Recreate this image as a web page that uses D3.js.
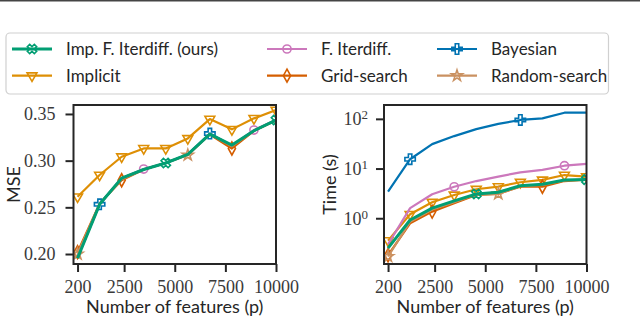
<!DOCTYPE html>
<html>
<head>
<meta charset="utf-8">
<script src="https://cdn.jsdelivr.net/npm/d3@7"></script>
<style>
  body { margin: 0; background: #fff; }
</style>
</head>
<body>
<script>
// number of features p (x axis for both panels)
let features = [200, 1288.9, 2377.8, 3466.7, 4555.6, 5644.4, 6733.3, 7822.2, 8911.1, 10000];

// MSE values (left panel)
let mseImpFIter = [0.1955, 0.2532, 0.2812, 0.2905, 0.2975, 0.3067, 0.3285, 0.3167, 0.3320, 0.3435];
let mseImplicit = [0.2613, 0.2846, 0.3042, 0.3131, 0.3131, 0.3238, 0.3445, 0.3335, 0.3453, 0.3542];
let mseFIter = [0.1965, 0.2535, 0.2810, 0.2910, 0.2975, 0.3065, 0.3285, 0.3160, 0.3328, 0.3435];
let mseGrid = [0.2020, 0.2540, 0.2790, 0.2905, 0.2975, 0.3065, 0.3280, 0.3130, 0.3320, 0.3430];
let mseBayes = [0.1965, 0.2532, 0.2810, 0.2905, 0.2975, 0.3065, 0.3290, 0.3160, 0.3320, 0.3435];
let mseRandom = [0.2000, 0.2535, 0.2800, 0.2905, 0.2975, 0.3060, 0.3285, 0.3155, 0.3320, 0.3435];

// time in seconds (right panel, log scale)
let timeImpFIter = [0.25, 0.92, 1.6, 2.23, 3.08, 3.33, 4.5, 4.83, 5.9, 6.0];
let timeImplicit = [0.355, 1.2, 2.1, 2.94, 3.83, 4.32, 5.3, 5.9, 7.4, 6.9];
let timeFIter = [0.30, 1.6, 3.04, 4.3, 5.6, 6.9, 8.4, 9.4, 11.4, 12.4];
let timeGrid = [0.18, 0.79, 1.36, 2.0, 2.94, 3.1, 4.3, 4.3, 5.6, 6.0];
let timeBayes = [3.43, 15.4, 31, 45, 62, 79, 95, 102, 133, 133];
let timeRandom = [0.17, 0.85, 1.5, 2.1, 3.0, 3.1, 4.4, 4.7, 5.8, 6.0];

let xTicks = [200, 2500, 5000, 7500, 10000];
let mseTicks = [0.20, 0.25, 0.30, 0.35];
let timeTicks = [1, 10, 100];

// methods: name, colour, marker, which points carry a marker, line width
let methods = [
  { name: "Imp. F. Iterdiff. (ours)", color: "#029e73", marker: "x", every: [4, 9], lw: 3, mse: mseImpFIter, time: timeImpFIter },
  { name: "Implicit", color: "#de8f05", marker: "v", every: [0,1,2,3,4,5,6,7,8,9], lw: 2.2, mse: mseImplicit, time: timeImplicit },
  { name: "F. Iterdiff.", color: "#cc78bc", marker: "o", every: [3, 8], lw: 2.2, mse: mseFIter, time: timeFIter },
  { name: "Grid-search", color: "#d55e00", marker: "d", every: [0, 2, 7], lw: 2.2, mse: mseGrid, time: timeGrid },
  { name: "Bayesian", color: "#0173b2", marker: "P", every: [1, 6], lw: 2.2, mse: mseBayes, time: timeBayes },
  { name: "Random-search", color: "#ca9161", marker: "*", every: [0, 5], lw: 2.2, mse: mseRandom, time: timeRandom }
];

let svg = d3.select("body").append("svg")
  .attr("width", 640)
  .attr("height", 320);

//thin rule at the very top
svg.append("rect").attr("x", 0).attr("y", 0).attr("width", 640).attr("height", 1.5).attr("fill", "#444");

let serif = "'Liberation Serif', 'DejaVu Serif', serif";
let sans = "Lato, 'Open Sans', sans-serif";

//draws one marker shape at 0,0
function drawMarker(sel, type, color) {
  let p;
  if (type == "x") p = d3.symbol(d3.symbolCross, 55)();
  else if (type == "P") p = d3.symbol(d3.symbolCross, 60)();
  else if (type == "v") p = d3.symbol(d3.symbolTriangle, 42)();
  else if (type == "o") p = d3.symbol(d3.symbolCircle, 52)();
  else if (type == "*") p = d3.symbol(d3.symbolStar, 38)();
  else p = "M0,-6.5L3.6,0L0,6.5L-3.6,0Z"; //thin diamond
  let rot = type == "x" ? 45 : (type == "v" ? 180 : 0);
  sel.append("path")
    .attr("d", p)
    .attr("transform", `rotate(${rot})`)
    .attr("fill", "none")
    .attr("stroke", color)
    .attr("stroke-width", 1.6);
}

function panel(opts) {
  let g = svg.append("g").attr("transform", `translate(${opts.left}, ${opts.top})`);
  let w = opts.width, h = opts.height;

  let scaleX = d3.scaleLinear().domain([0, 10000]).range([0, w]);
  let scaleY = opts.scaleY.range([h, 0]);

  let xAxis = d3.axisBottom(scaleX).tickValues(xTicks).tickSize(8).tickPadding(8).tickSizeOuter(0)
    .tickFormat(d => d);
  let yAxis = d3.axisLeft(scaleY).tickValues(opts.ticks).tickSize(8).tickPadding(opts.ypad).tickSizeOuter(0)
    .tickFormat(opts.format);

  let xG = g.append("g").attr("transform", `translate(0, ${h})`).call(xAxis);
  let yG = g.append("g").call(yAxis);
  [xG, yG].forEach(a => {
    a.select(".domain").remove();
    a.selectAll(".tick line").attr("stroke", "#262626").attr("stroke-width", 2);
    a.selectAll(".tick text").attr("font-family", serif).attr("font-size", 18).attr("fill", "#3a3a3a");
  });
  if (opts.log) {
    yG.selectAll(".tick text").text(null).each(function(d) {
      let t = d3.select(this);
      t.append("tspan").text("10");
      t.append("tspan").attr("dy", "-0.45em").attr("font-size", 13).text(Math.round(Math.log10(d)));
    });
  }

  //clip lines to the plot box
  let clipId = "clip" + opts.left;
  g.append("clipPath").attr("id", clipId).append("rect").attr("width", w).attr("height", h);
  let plot = g.append("g").attr("clip-path", `url(#${clipId})`);

  let order = [1, 2, 3, 4, 5, 0]; //ours on top
  order.forEach(i => {
    let m = methods[i];
    let vals = m[opts.key];
    let pts = features.map((f, j) => [scaleX(f), scaleY(vals[j])]);
    plot.append("path")
      .attr("d", d3.line()(pts))
      .attr("fill", "none")
      .attr("stroke", m.color)
      .attr("stroke-width", m.lw)
      .attr("stroke-linejoin", "round");
    m.every.forEach(j => {
      let mk = plot.append("g").attr("transform", `translate(${pts[j][0]}, ${pts[j][1]})`);
      drawMarker(mk, m.marker, m.color);
    });
  });

  //box
  g.append("rect").attr("width", w).attr("height", h)
    .attr("fill", "none").attr("stroke", "#262626").attr("stroke-width", 2);

  //axis labels
  g.append("text")
    .attr("x", w / 2).attr("y", h + 49)
    .attr("text-anchor", "middle")
    .attr("font-family", sans).attr("font-size", 18).attr("fill", "#262626")
    .text("Number of features (p)");
  g.append("text")
    .attr("transform", `translate(${opts.ylabelX}, ${h / 2}) rotate(-90)`)
    .attr("text-anchor", "middle")
    .attr("font-family", sans).attr("font-size", 18).attr("fill", "#262626")
    .text(opts.ylabel);
}

panel({
  left: 73.5, top: 105, width: 202.5, height: 159,
  scaleY: d3.scaleLinear().domain([0.1893, 0.3596]),
  ticks: mseTicks, format: d3.format(".2f"), key: "mse", ypad: 10,
  ylabel: "MSE", ylabelX: -54
});

panel({
  left: 384, top: 105, width: 202.5, height: 159,
  scaleY: d3.scaleLog().domain([0.12, 190]),
  ticks: timeTicks, format: d => d, key: "time", log: true, ypad: 8,
  ylabel: "Time (s)", ylabelX: -48
});

/*

LEGEND

*/

let legend = svg.append("g");
legend.append("rect")
  .attr("x", 6).attr("y", 33).attr("width", 602.5).attr("height", 61)
  .attr("rx", 4)
  .attr("fill", "white").attr("stroke", "#d0d0d0").attr("stroke-width", 1.2);

let colX = [12, 267, 437];
let rowY = [49, 75.7];
methods.forEach((m, i) => {
  let x = colX[Math.floor(i / 2)], y = rowY[i % 2];
  let item = legend.append("g").attr("transform", `translate(${x}, ${y})`);
  item.append("line").attr("x1", 0).attr("x2", 40)
    .attr("stroke", m.color).attr("stroke-width", m.lw);
  let mk = item.append("g").attr("transform", "translate(20, 0)");
  drawMarker(mk, m.marker, m.color);
  item.append("text")
    .attr("x", 54).attr("y", 0).attr("dy", "0.35em")
    .attr("font-family", sans).attr("font-size", 17).attr("fill", "#262626")
    .text(m.name);
});
</script>
</body>
</html>
